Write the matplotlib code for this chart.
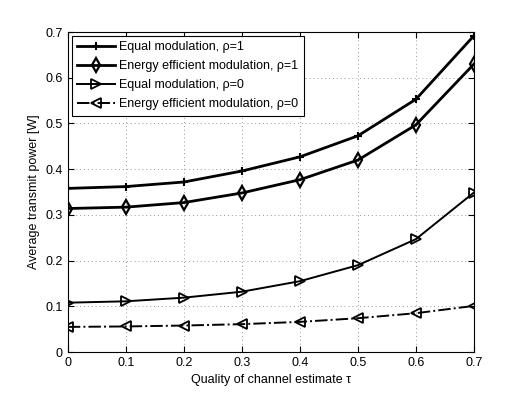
import matplotlib
matplotlib.use('Agg')
import matplotlib.pyplot as plt
import numpy as np

plt.rcParams['font.family'] = ['Liberation Sans', 'DejaVu Sans']

tau = [0, 0.1, 0.2, 0.3, 0.4, 0.5, 0.6, 0.7]
equal_rho1 = [0.358, 0.362, 0.372, 0.396, 0.427, 0.473, 0.553, 0.692]
ee_rho1 = [0.314, 0.317, 0.327, 0.348, 0.377, 0.420, 0.497, 0.630]
equal_rho0 = [0.108, 0.111, 0.119, 0.132, 0.155, 0.190, 0.247, 0.349]
ee_rho0 = [0.055, 0.056, 0.058, 0.061, 0.066, 0.074, 0.085, 0.101]

labels = ['Equal modulation, ρ=1', 'Energy efficient modulation, ρ=1',
          'Equal modulation, ρ=0', 'Energy efficient modulation, ρ=0']
tick_labels = ['0', '0.1', '0.2', '0.3', '0.4', '0.5', '0.6', '0.7']

fig = plt.figure(figsize=(5.26, 3.96), dpi=100)
ax = fig.add_axes([0.129, 0.111, 0.772, 0.808])

ax.plot(tau, equal_rho1, color='k', lw=2, marker='+', ms=6, mew=1.5, label=labels[0])
ax.plot(tau, ee_rho1, color='k', lw=2, marker='d', ms=7, mew=1.6, mfc='none', label=labels[1])
ax.plot(tau, equal_rho0, color='k', lw=1.4, marker='>', ms=6.5, mew=1.3, mfc='none', label=labels[2])
ax.plot(tau, ee_rho0, color='k', lw=1.4, ls='-.', marker='<', ms=6.5, mew=1.3, mfc='none', label=labels[3])

ax.set_xlim(0, 0.7)
ax.set_ylim(0, 0.7)
ax.set_xticks(np.arange(0, 0.71, 0.1))
ax.set_yticks(np.arange(0, 0.71, 0.1))
ax.set_xticklabels(tick_labels)
ax.set_yticklabels(tick_labels)
ax.tick_params(direction='in', top=True, right=True, labelsize=9, length=4)
ax.grid(True, ls=(0, (1, 3)), color='#999999', lw=0.7)

ax.set_xlabel('Quality of channel estimate τ', fontsize=9)
ax.set_ylabel('Average transmit power [W]', fontsize=9)

leg = ax.legend(loc='upper left', fontsize=9, frameon=True, fancybox=False,
                edgecolor='k', framealpha=1, borderaxespad=0.3, handlelength=3.0,
                labelspacing=0.55, handletextpad=0.35, borderpad=0.45)
leg.get_frame().set_linewidth(0.8)

plt.savefig('out.png', dpi=100)
